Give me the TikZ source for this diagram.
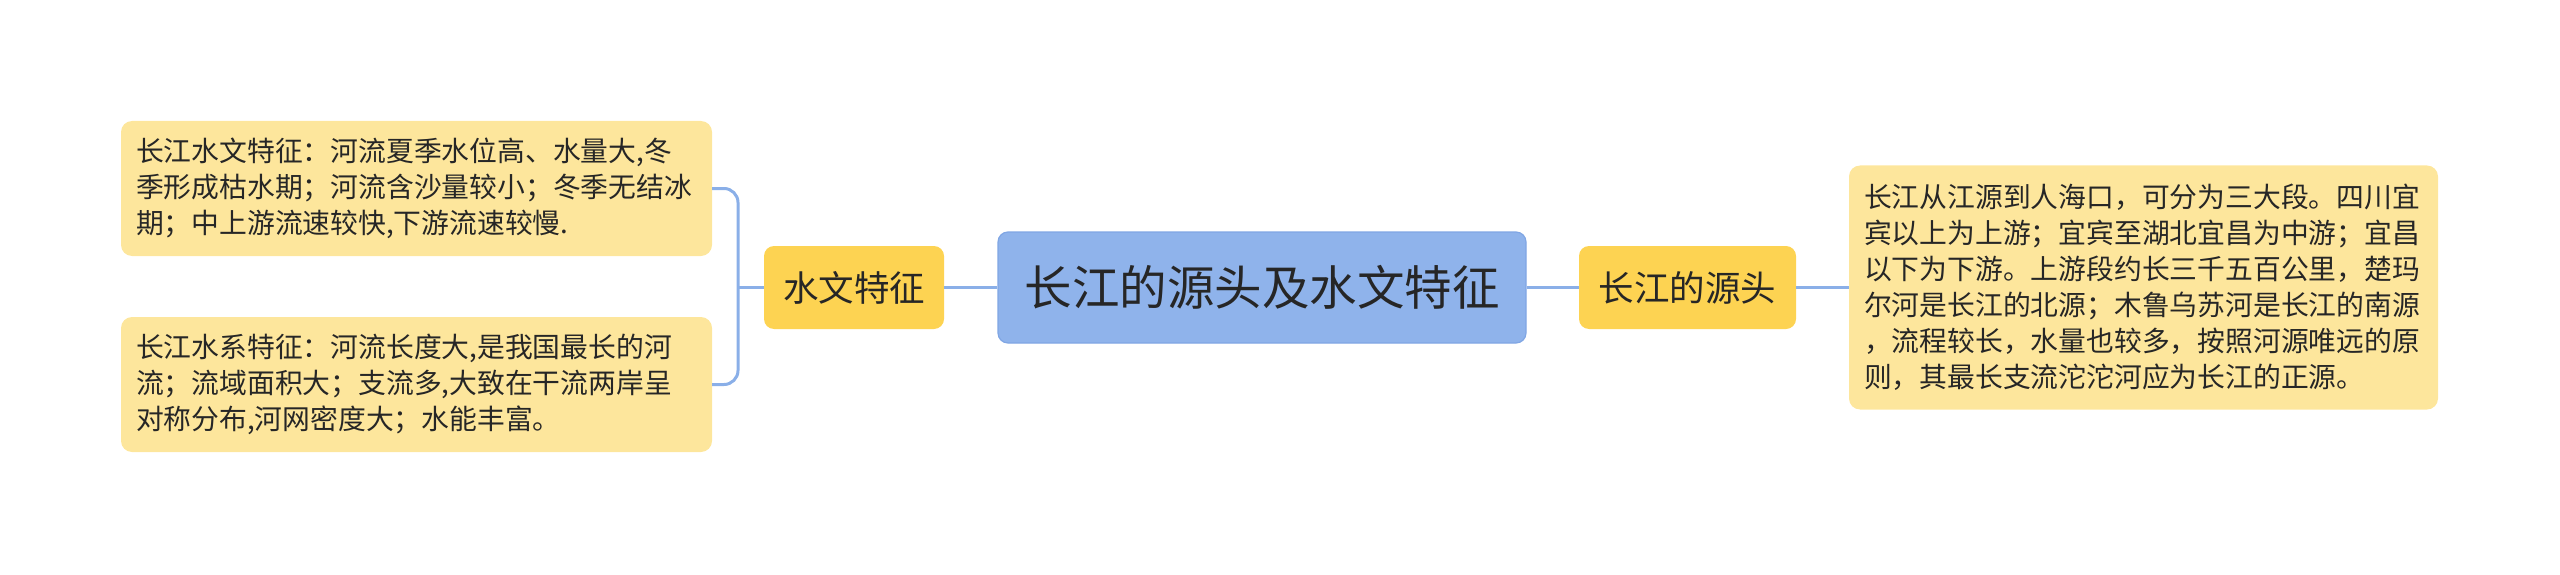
\documentclass[tikz,border=0pt]{standalone}
\usepackage{fontspec}
\setmainfont{Noto Sans CJK SC}
\definecolor{cfill}{RGB}{143,179,235}
\definecolor{cborder}{RGB}{128,166,228}
\definecolor{bfill}{RGB}{253,211,82}
\definecolor{lfill}{RGB}{253,230,156}
\definecolor{lineblue}{RGB}{138,175,232}
\definecolor{txt}{RGB}{38,38,38}
\tikzset{
  centerbox/.style={draw=cborder, line width=1.2pt, fill=cfill, rounded corners=10pt, minimum width=528pt, minimum height=111pt, inner sep=0pt, text=txt, font=\fontsize{47.5pt}{56pt}\selectfont},
  branchbox/.style={fill=bfill, rounded corners=10pt, minimum height=83pt, inner sep=0pt, text=txt, font=\fontsize{35.5pt}{42pt}\selectfont},
  leafbox/.style={fill=lfill, rounded corners=11pt, inner xsep=15pt, inner ysep=0pt, align=left, text=txt, font=\fontsize{27.8pt}{36pt}\selectfont},
  conn/.style={draw=lineblue, line width=3pt}
}
\begin{document}
\begin{tikzpicture}[x=1pt,y=-1pt]
\useasboundingbox (0,0) rectangle (2560,575);
\node[centerbox] (root) at (1262,287.5) {长江的源头及水文特征};
\node[branchbox, minimum width=180pt] (b1) at (854,287.5) {水文特征};
\node[branchbox, minimum width=217pt] (b2) at (1687.5,287.5) {长江的源头};
\node[leafbox, text width=561pt, minimum height=135pt] (l1) at (416.5,188.5) {长江水文特征：河流夏季水位高、水量大,冬\\季形成枯水期；河流含沙量较小；冬季无结冰\\期；中上游流速较快,下游流速较慢.};
\node[leafbox, text width=561pt, minimum height=135pt] (l2) at (416.5,384.5) {长江水系特征：河流长度大,是我国最长的河\\流；流域面积大；支流多,大致在干流两岸呈\\对称分布,河网密度大；水能丰富。};
\node[leafbox, text width=559pt, minimum height=244pt] (r1) at (2143.5,287.5) {长江从江源到人海口，可分为三大段。四川宜\\宾以上为上游；宜宾至湖北宜昌为中游；宜昌\\以下为下游。上游段约长三千五百公里，楚玛\\尔河是长江的北源；木鲁乌苏河是长江的南源\\，流程较长，水量也较多，按照河源唯远的原\\则，其最长支流沱沱河应为长江的正源。};
\coordinate (bk) at (738,287.5);
\draw[conn] (root.west) -- (b1.east);
\draw[conn] (root.east) -- (b2.west);
\draw[conn] (b2.east) -- (r1.west);
\draw[conn] (b1.west) -- (bk);
\draw[conn, rounded corners=14pt] (l1.east) -| (bk) |- (l2.east);
\end{tikzpicture}
\end{document}
